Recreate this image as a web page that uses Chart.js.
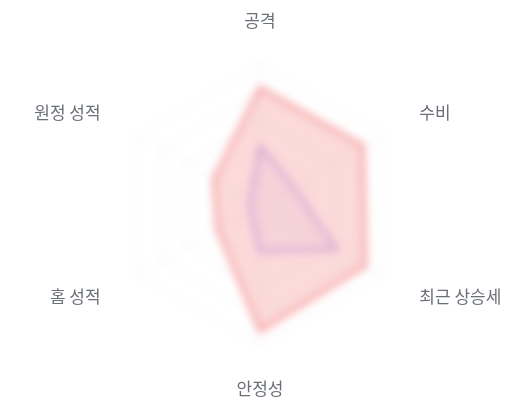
<!DOCTYPE html>
<html>
<head>
<meta charset="utf-8">
<script src="https://cdn.jsdelivr.net/npm/chart.js@4.4.1/dist/chart.umd.min.js"></script>
<style>
  html, body { margin: 0; padding: 0; background: #fff; }
  .wrap { position: relative; width: 520px; height: 400px; overflow: hidden; }
  /* a bit wider than the page so the long side labels never push the centre */
  .layer { position: absolute; left: -40px; top: 0; width: 600px; height: 400px; }
  #blurLayer { filter: blur(4px); }
</style>
</head>
<body>
<div class="wrap">
  <div class="layer" id="blurLayer"><canvas id="radarBlur"></canvas></div>
  <div class="layer"><canvas id="radarLabels"></canvas></div>
</div>
<script>
// axis names
var labels = ['공격', '수비', '최근 상승세', '안정성', '홈 성적', '원정 성적'];

// values (0 - 100)
var teamA = [84, 85, 87, 90, 35, 38];
var teamB = [42, 27, 63, 33, 8, 8];

// both layers share the same scale so the labels line up with the blurred grid
function radarScale(gridColor, labelColor) {
  return {
    min: 0,
    max: 100,
    ticks: { display: false, stepSize: 20 },
    grid: { color: gridColor },
    angleLines: { color: gridColor },
    pointLabels: {
      color: labelColor,
      padding: 44,
      font: { family: '"Noto Sans CJK KR", "Noto Sans", sans-serif', size: 17, lineHeight: 0 }
    }
  };
}

var commonOptions = function(gridColor, labelColor) {
  return {
    responsive: true,
    maintainAspectRatio: false,
    animation: false,
    layout: { padding: { top: 21, bottom: 11 } },
    plugins: { legend: { display: false }, tooltip: { enabled: false } },
    scales: { r: radarScale(gridColor, labelColor) }
  };
};

// blurred chart: grid + data, labels hidden
new Chart(document.getElementById('radarBlur'), {
  type: 'radar',
  data: {
    labels: labels,
    datasets: [{
      label: 'A',
      data: teamA,
      backgroundColor: 'rgba(239, 68, 68, 0.2)',
      borderColor: 'rgba(239, 68, 68, 0.45)',
      borderWidth: 4,
      pointRadius: 0
    }, {
      label: 'B',
      data: teamB,
      backgroundColor: 'rgba(139, 92, 246, 0.06)',
      borderColor: 'rgba(139, 92, 246, 0.45)',
      borderWidth: 3,
      pointRadius: 0
    }]
  },
  options: commonOptions('rgba(0, 0, 0, 0.07)', 'rgba(0,0,0,0)')
});

// sharp chart on top: only the axis labels
new Chart(document.getElementById('radarLabels'), {
  type: 'radar',
  data: {
    labels: labels,
    datasets: [{ label: 'A', data: teamA, borderColor: 'rgba(0,0,0,0)', backgroundColor: 'rgba(0,0,0,0)', pointRadius: 0 }]
  },
  options: commonOptions('rgba(0,0,0,0)', '#6b6f78')
});
</script>
</body>
</html>
